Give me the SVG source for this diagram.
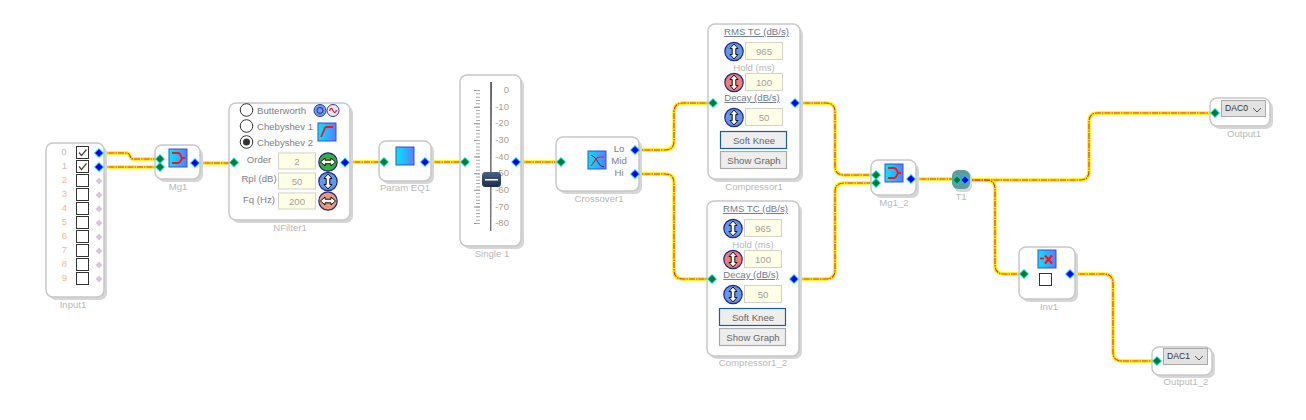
<svg xmlns="http://www.w3.org/2000/svg" width="1306" height="420" viewBox="0 0 1306 420">
<style>
text{font-family:"Liberation Sans",Arial,sans-serif;font-size:9.6px;fill:#808080}
.m{text-anchor:middle}
.cap{fill:#b8b8b8;text-anchor:middle}
.num{fill:#f8b494;text-anchor:end}
.b{fill:#666;text-anchor:middle}
.u{text-decoration:underline;fill:#707a90;text-anchor:middle}
.val{fill:#a0a0a0;text-anchor:middle}
.tick{fill:#b09c88;text-anchor:end}
.dac{fill:#333;font-size:8.6px}
.sh{fill:#d6d6d6}
.nd{fill:#fff;stroke:#c8c8c8;stroke-width:1.5}
.fld{fill:#ffffe6;stroke:#d2d2c8;stroke-width:1}
.chk{fill:#fff;stroke:#333;stroke-width:1}
.wy{fill:none;stroke:#ffee00;stroke-width:3.4;stroke-linejoin:round}
.wr{fill:none;stroke:#e8300a;stroke-width:1.1;stroke-dasharray:6 1 1.5 1}
.ic{fill:url(#ig);stroke:#3a4fd8;stroke-width:1}
.red{fill:none;stroke:#f01818;stroke-width:1.8}
</style>
<defs>
<linearGradient id="ig" x1="0" y1="0" x2="1" y2="0"><stop offset="0" stop-color="#00e8ff"/><stop offset="1" stop-color="#5a7cff"/></linearGradient>
<linearGradient id="sl" x1="0" y1="0" x2="0" y2="1"><stop offset="0" stop-color="#e02020"/><stop offset=".5" stop-color="#f09020"/><stop offset="1" stop-color="#f8d020"/></linearGradient>
<linearGradient id="th" x1="0" y1="0" x2="0" y2="1"><stop offset="0" stop-color="#4a6288"/><stop offset="1" stop-color="#1c2c4c"/></linearGradient>
<g id="pi"><polygon points="0,-5 5,0 0,5 -5,0" fill="#00e0e0"/><polygon points="0,-3.8 3.8,0 0,3.8 -3.8,0" fill="#007a30"/></g>
<g id="po"><polygon points="0,-5 5,0 0,5 -5,0" fill="#00d8ff"/><polygon points="0,-3.8 3.8,0 0,3.8 -3.8,0" fill="#0000f0"/></g>
<polygon id="pp" points="0,-3.4 3.4,0 0,3.4 -3.4,0" fill="#dcc4e0"/>
<g id="kv"><circle r="9.2" stroke="#1c2a80" stroke-width="1.2"/><path d="M0-7.500 4-3H1.800V3H4L0 7.500-4 3H-1.800V-3H-4Z" fill="#fff" stroke="#111" stroke-width="1"/></g>
<g id="kh"><circle r="9.2" stroke="#1c2a80" stroke-width="1.2"/><path d="M-7.500 0-3-4V-1.800H3V-4L7.500 0 3 4V1.800H-3V4Z" fill="#fff" stroke="#111" stroke-width="1"/></g>
<g id="mgi"><rect class="ic" x="0" y="0" width="18" height="18"/><path class="red" d="M3 4H9Q11 4 12 7L13 9H16M13 9 12 11Q11 14 9 14H3"/></g>
<path id="ck" d="M2.500 6 5 9 10 3" fill="none" stroke="#444" stroke-width="1.200"/>
<path id="w1" d="M99 153H127Q129 153 130 156Q131 159 133 159H160"/>
<path id="w2" d="M99 167H160"/>
<path id="w3" d="M195 163H234"/>
<path id="w4" d="M345 162H384"/>
<path id="w5" d="M425 162H465"/>
<path id="w6" d="M516 162H561"/>
<path id="w7" d="M635 150H665Q674 150 674 141V112Q674 103 683 103H713"/>
<path id="w8" d="M635 174H665Q674 174 674 183V270Q674 279 683 279H712"/>
<path id="w9" d="M795 103H826Q835 103 835 112V166Q835 175 844 175H876"/>
<path id="w10" d="M794 279H826Q835 279 835 270V192Q835 183 844 183H876"/>
<path id="w11" d="M911 179H957"/>
<path id="w12" d="M965 180H1080Q1089 180 1089 171V122Q1089 113 1098 113H1215"/>
<path id="w13" d="M965 180H986Q995 180 995 189V265Q995 274 1004 274H1024"/>
<path id="w14" d="M1070 274H1104Q1113 274 1113 283V352Q1113 361 1122 361H1157"/>
</defs>

<g id="connectors">
<g class="wy"><use href="#w1"/><use href="#w2"/><use href="#w3"/><use href="#w4"/><use href="#w5"/><use href="#w6"/><use href="#w7"/><use href="#w8"/><use href="#w9"/><use href="#w10"/><use href="#w11"/><use href="#w12"/><use href="#w13"/><use href="#w14"/></g>
<g class="wr"><use href="#w1"/><use href="#w2"/><use href="#w3"/><use href="#w4"/><use href="#w5"/><use href="#w6"/><use href="#w7"/><use href="#w8"/><use href="#w9"/><use href="#w10"/><use href="#w11"/><use href="#w12"/><use href="#w13"/><use href="#w14"/></g>
</g>

<g id="Input1">
<rect class="sh" x="49" y="146" width="58" height="154" rx="7"/>
<rect class="nd" x="46" y="143" width="58" height="154" rx="7"/>
<text class="cap" x="64" y="155">0</text><text class="num" x="67" y="169" style="fill:#d8b8a8">1</text><text class="num" x="67" y="183">2</text><text class="num" x="67" y="197">3</text><text class="num" x="67" y="211">4</text><text class="num" x="67" y="225">5</text><text class="num" x="67" y="239">6</text><text class="num" x="67" y="253">7</text><text class="num" x="67" y="267">8</text><text class="num" x="67" y="281">9</text>
<rect class="chk" x="76.500" y="146.500" width="12" height="12"/><use href="#ck" x="76.500" y="146.500"/>
<rect class="chk" x="76.500" y="160.500" width="12" height="12"/><use href="#ck" x="76.500" y="160.500"/>
<rect class="chk" x="76.500" y="174.500" width="12" height="12"/>
<rect class="chk" x="76.500" y="188.500" width="12" height="12"/>
<rect class="chk" x="76.500" y="202.500" width="12" height="12"/>
<rect class="chk" x="76.500" y="216.500" width="12" height="12"/>
<rect class="chk" x="76.500" y="230.500" width="12" height="12"/>
<rect class="chk" x="76.500" y="244.500" width="12" height="12"/>
<rect class="chk" x="76.500" y="258.500" width="12" height="12"/>
<rect class="chk" x="76.500" y="272.500" width="12" height="12"/>
<use href="#po" x="99" y="153"/><use href="#po" x="99" y="167"/>
<use href="#pp" x="99" y="181"/><use href="#pp" x="99" y="195"/><use href="#pp" x="99" y="209"/><use href="#pp" x="99" y="223"/><use href="#pp" x="99" y="237"/><use href="#pp" x="99" y="251"/><use href="#pp" x="99" y="265"/><use href="#pp" x="99" y="279"/>
<text class="cap" x="73" y="308">Input1</text>
</g>

<g id="Mg1">
<rect class="sh" x="158" y="148" width="45" height="34" rx="7"/>
<rect class="nd" x="155" y="145" width="45" height="34" rx="7"/>
<use href="#mgi" x="169" y="149"/>
<use href="#pi" x="160" y="159"/><use href="#pi" x="160" y="167"/><use href="#po" x="195" y="163"/>
<text class="cap" x="178" y="190">Mg1</text>
</g>

<g id="NFilter1">
<rect class="sh" x="232" y="106" width="121" height="117" rx="7"/>
<rect class="nd" x="229" y="103" width="121" height="117" rx="7"/>
<circle cx="246.500" cy="110" r="6.300" fill="#fff" stroke="#333"/>
<circle cx="246.500" cy="126" r="6.300" fill="#fff" stroke="#333"/>
<circle cx="246.500" cy="142" r="6.300" fill="#fff" stroke="#333"/><circle cx="246.500" cy="142" r="3.500" fill="#333"/>
<text x="257" y="114">Butterworth</text><text x="257" y="130">Chebyshev 1</text><text x="257" y="146">Chebyshev 2</text>
<circle cx="320" cy="110.500" r="6" fill="#6f9af0" stroke="#2a3a98"/><circle cx="320" cy="110.500" r="3" fill="none" stroke="#1c2a80"/>
<circle cx="333" cy="110.500" r="6" fill="#e8e8ff" stroke="#2a3a98"/><path d="M329.500 111Q331 106 333 110.500T336.500 110" fill="none" stroke="#f01818" stroke-width="1.200"/>
<rect class="ic" x="318" y="123" width="18" height="18"/><path class="red" d="M321 137 325 128Q325.500 127 327 127H333"/>
<text class="m" x="259" y="163">Order</text><text class="m" x="259" y="182">Rpl (dB)</text><text class="m" x="259" y="203">Fq (Hz)</text>
<rect class="fld" x="278.500" y="153" width="37" height="16"/><text class="val" x="297" y="165">2</text>
<rect class="fld" x="278.500" y="173" width="37" height="16"/><text class="val" x="297" y="185">50</text>
<rect class="fld" x="278.500" y="193" width="37" height="16"/><text class="val" x="297" y="205">200</text>
<use href="#kh" x="328" y="162" fill="#35b040"/><use href="#kv" x="328" y="181.500" fill="#6495ed"/><use href="#kh" x="328" y="201" fill="#e89878"/>
<use href="#pi" x="234" y="162.500"/><use href="#po" x="345" y="162.500"/>
<text class="cap" x="290" y="231">NFilter1</text>
</g>

<g id="Param_EQ1">
<rect class="sh" x="382" y="144" width="52" height="40" rx="7"/>
<rect class="nd" x="379" y="141" width="52" height="40" rx="7"/>
<rect class="ic" x="396" y="147" width="18" height="18"/>
<use href="#pi" x="384" y="162"/><use href="#po" x="425" y="162"/>
<text class="cap" x="405" y="191">Param EQ1</text>
</g>

<g id="Single_1">
<rect class="sh" x="463" y="78" width="61" height="171" rx="7"/>
<rect class="nd" x="460" y="75" width="61" height="171" rx="7"/>
<line x1="477" y1="90" x2="477" y2="224" stroke="#888" stroke-width="6" stroke-dasharray="1 15.625"/>
<line x1="478" y1="90" x2="478" y2="224" stroke="#aaa" stroke-width="4" stroke-dasharray="1 2.325"/>
<rect x="490" y="82" width="1" height="149" fill="#777"/><rect x="491" y="82" width="1" height="149" fill="url(#sl)"/>
<text class="tick" x="509" y="93">0</text><text class="tick" x="509" y="110">-10</text><text class="tick" x="509" y="126">-20</text><text class="tick" x="509" y="143">-30</text><text class="tick" x="509" y="160">-40</text><text class="tick" x="509" y="176">-50</text><text class="tick" x="509" y="193">-60</text><text class="tick" x="509" y="210">-70</text><text class="tick" x="509" y="226">-80</text>
<rect x="482" y="172" width="19" height="15" rx="3.500" fill="url(#th)"/><rect x="485" y="179" width="13" height="1.500" fill="#fff"/>
<use href="#pi" x="465" y="162"/><use href="#po" x="516" y="162"/>
<text class="cap" x="492" y="257">Single 1</text>
</g>

<g id="Crossover1">
<rect class="sh" x="559" y="140" width="83" height="54" rx="7"/>
<rect class="nd" x="556" y="137" width="83" height="54" rx="7"/>
<rect class="ic" x="588" y="151" width="18" height="18"/>
<path d="M591 155Q596 157 598 162T604 167" fill="none" stroke="#334" stroke-width="1"/><path d="M591 166 596 159Q597 157 600 157H604" fill="none" stroke="#f01818" stroke-width="1.200"/>
<text class="m" x="619" y="152">Lo</text><text class="m" x="619" y="164">Mid</text><text class="m" x="619" y="176">Hi</text>
<use href="#pi" x="561" y="162"/><use href="#po" x="635" y="150"/><use href="#po" x="635" y="174"/>
<text class="cap" x="599" y="202">Crossover1</text>
</g>

<g id="Compressor1">
<rect class="sh" x="711" y="27" width="92" height="155" rx="7"/>
<rect class="nd" x="708" y="24" width="92" height="155" rx="7"/>
<text class="u" x="756.500" y="35">RMS TC (dB/s)</text>
<use href="#kv" x="734" y="51.500" fill="#6495ed"/><rect class="fld" x="745.500" y="42.500" width="37" height="17"/><text class="val" x="764" y="55">965</text>
<text class="cap" x="754" y="71">Hold (ms)</text>
<use href="#kv" x="734" y="82.500" fill="#ee7c7c"/><rect class="fld" x="745.500" y="73.500" width="37" height="17"/><text class="val" x="764" y="86">100</text>
<text class="u" x="752" y="101">Decay (dB/s)</text>
<use href="#kv" x="734" y="117.500" fill="#6495ed"/><rect class="fld" x="745.500" y="108.500" width="37" height="17"/><text class="val" x="764" y="121">50</text>
<rect x="720.500" y="131.500" width="66" height="17" fill="#eee" stroke="#1a5c98" stroke-width="1.200"/><text class="b" x="754" y="144">Soft Knee</text>
<rect x="720.500" y="151.500" width="66" height="17" fill="#eee" stroke="#aaa" stroke-width="1.200"/><text class="b" x="754" y="164">Show Graph</text>
<use href="#pi" x="713" y="103"/><use href="#po" x="795" y="103"/>
<text class="cap" x="754" y="190">Compressor1</text>
</g>

<g id="Compressor1_2">
<rect class="sh" x="710" y="204" width="92" height="155" rx="7"/>
<rect class="nd" x="707" y="201" width="92" height="155" rx="7"/>
<text class="u" x="755.500" y="212">RMS TC (dB/s)</text>
<use href="#kv" x="733" y="228.500" fill="#6495ed"/><rect class="fld" x="744.500" y="219.500" width="37" height="17"/><text class="val" x="763" y="232">965</text>
<text class="cap" x="753" y="248">Hold (ms)</text>
<use href="#kv" x="733" y="259.500" fill="#ee7c7c"/><rect class="fld" x="744.500" y="250.500" width="37" height="17"/><text class="val" x="763" y="263">100</text>
<text class="u" x="751" y="278">Decay (dB/s)</text>
<use href="#kv" x="733" y="294.500" fill="#6495ed"/><rect class="fld" x="744.500" y="285.500" width="37" height="17"/><text class="val" x="763" y="298">50</text>
<rect x="719.500" y="308.500" width="66" height="17" fill="#eee" stroke="#1a5c98" stroke-width="1.200"/><text class="b" x="753" y="321">Soft Knee</text>
<rect x="719.500" y="328.500" width="66" height="17" fill="#eee" stroke="#aaa" stroke-width="1.200"/><text class="b" x="753" y="341">Show Graph</text>
<use href="#pi" x="712" y="279"/><use href="#po" x="794" y="279"/>
<text class="cap" x="753" y="366">Compressor1_2</text>
</g>

<g id="Mg1_2">
<rect class="sh" x="874" y="163" width="45" height="35" rx="7"/>
<rect class="nd" x="871" y="160" width="45" height="35" rx="7"/>
<use href="#mgi" x="885" y="164"/>
<use href="#pi" x="876" y="175"/><use href="#pi" x="876" y="183"/><use href="#po" x="911" y="179"/>
<text class="cap" x="894" y="206">Mg1_2</text>
</g>

<g id="T1">
<rect class="sh" x="954" y="172" width="18" height="20" rx="6"/>
<rect x="952" y="170" width="18" height="19" rx="6" fill="#5f9c9e"/>
<use href="#pi" x="957" y="180"/><use href="#po" x="965" y="180"/>
<text class="cap" x="961" y="200">T1</text>
</g>

<g id="Inv1">
<rect class="sh" x="1022" y="250" width="56" height="52" rx="7"/>
<rect class="nd" x="1019" y="247" width="56" height="52" rx="7"/>
<rect class="ic" x="1038" y="250" width="18" height="18"/>
<path d="M1040 258.500H1044" stroke="#f01818" stroke-width="1.800"/>
<path d="M1045 255.500 1052 263.500M1052 255.500 1045 263.500" stroke="#f01818" stroke-width="2.200"/>
<rect class="chk" x="1039.500" y="273.500" width="12" height="12"/>
<use href="#pi" x="1024" y="274"/><use href="#po" x="1070" y="274"/>
<text class="cap" x="1049" y="310">Inv1</text>
</g>

<g id="Output1">
<rect class="sh" x="1213" y="101" width="60" height="28" rx="7"/>
<rect class="nd" x="1210" y="98" width="60" height="28" rx="7"/>
<rect x="1221.500" y="100.500" width="44" height="16" fill="#e2e2e2" stroke="#aaa"/>
<text class="dac" x="1225" y="111">DAC0</text>
<path d="M1253 108 1257 112 1261 108" fill="none" stroke="#555"/>
<use href="#pi" x="1215" y="113"/>
<text class="cap" x="1244" y="137">Output1</text>
</g>

<g id="Output1_2">
<rect class="sh" x="1155" y="350" width="60" height="28" rx="7"/>
<rect class="nd" x="1152" y="347" width="60" height="28" rx="7"/>
<rect x="1163.500" y="348.500" width="44" height="16" fill="#e2e2e2" stroke="#aaa"/>
<text class="dac" x="1167" y="359">DAC1</text>
<path d="M1195 356 1199 360 1203 356" fill="none" stroke="#555"/>
<use href="#pi" x="1157" y="361"/>
<text class="cap" x="1186" y="385">Output1_2</text>
</g>
</svg>
